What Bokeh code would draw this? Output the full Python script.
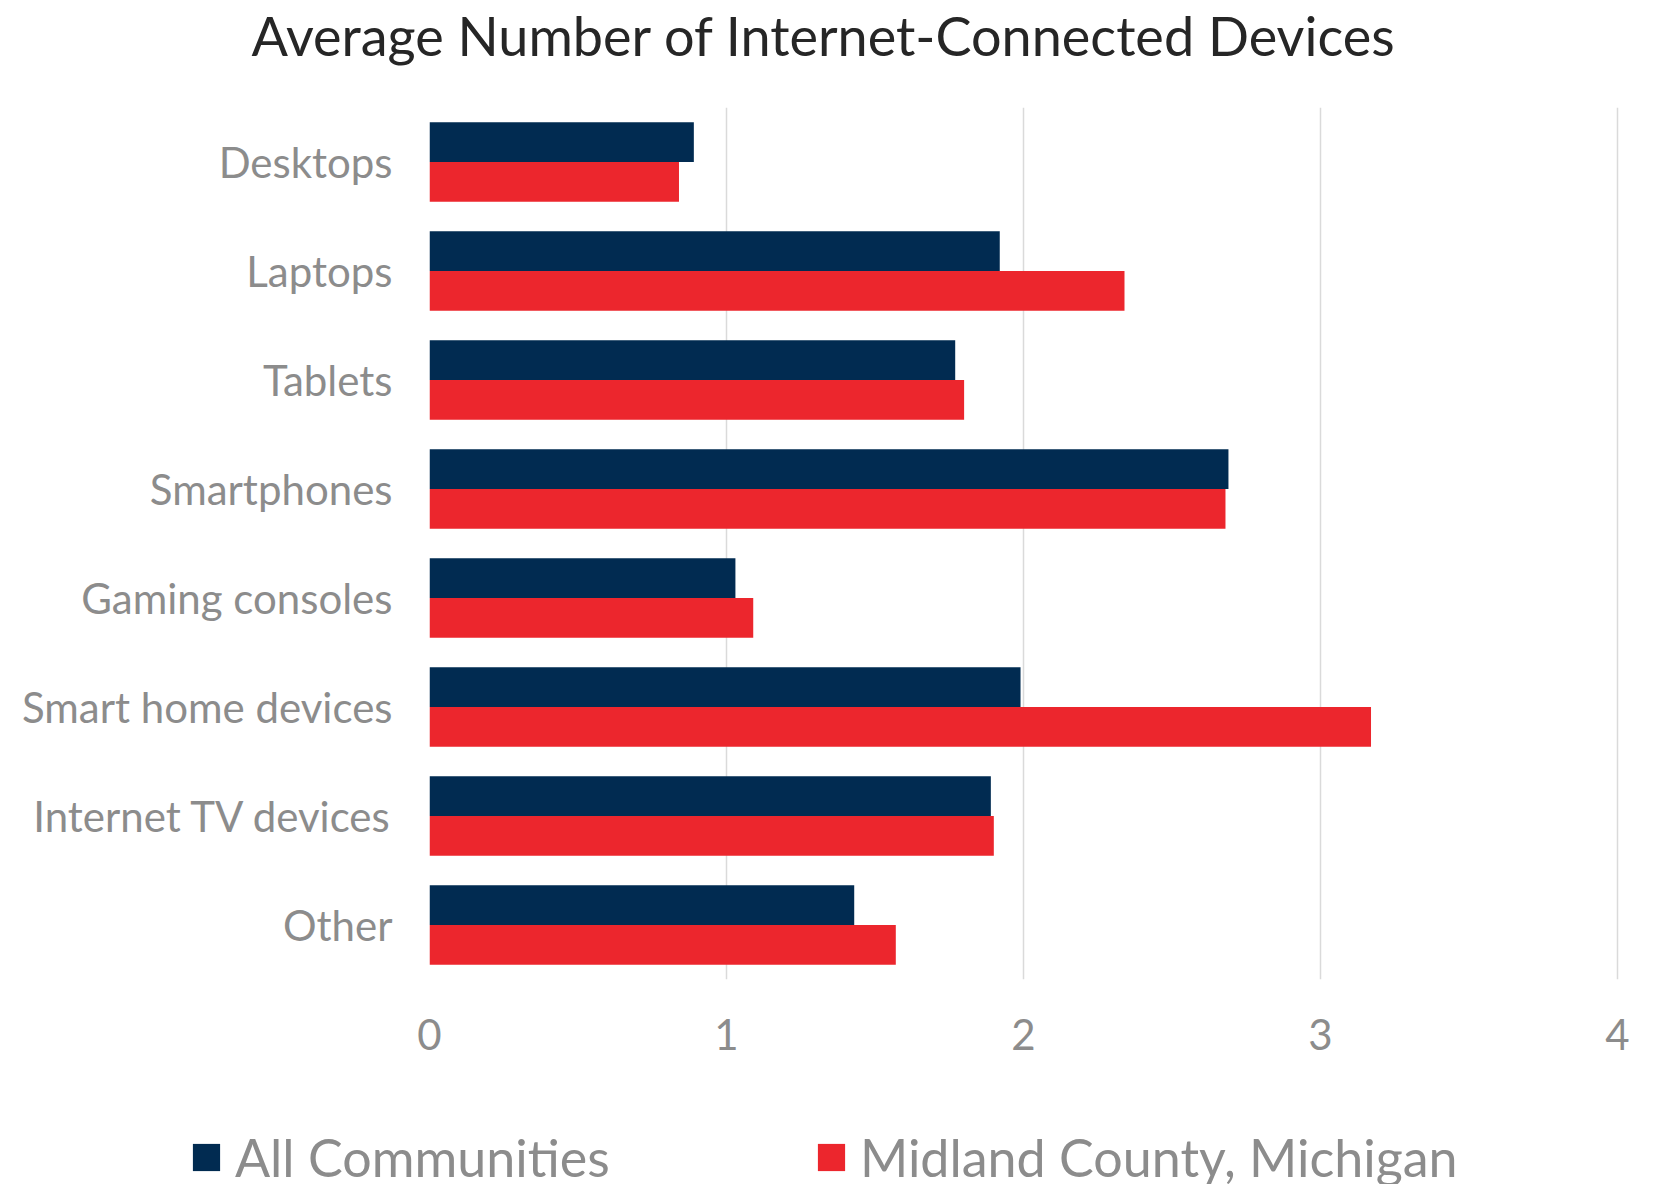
from bokeh.plotting import figure
from bokeh.models import FactorRange, Range1d, Legend, LegendItem, Label, ColumnDataSource, FixedTicker
from bokeh.transform import dodge
from bokeh.embed import file_html
from bokeh.resources import INLINE

categories = ["Desktops", "Laptops", "Tablets", "Smartphones", "Gaming consoles",
              "Smart home devices", "Internet TV devices", "Other"]
all_communities = [0.89, 1.92, 1.77, 2.69, 1.03, 1.99, 1.89, 1.43]
midland_county = [0.84, 2.34, 1.80, 2.68, 1.09, 3.17, 1.90, 1.57]
series_names = ["All Communities", "Midland County, Michigan"]
x_ticks = [0, 1, 2, 3, 4]
title_text = "Average Number of Internet-Connected Devices"

NAVY = "#012b51"
RED = "#ec262d"
GRAY = "#8c8c8c"
FONT = "Lato"
W = 1660

source = ColumnDataSource(dict(cat=categories, a=all_communities, m=midland_county))

# ---- title strip ----
head = figure(width=W, height=107, x_range=Range1d(0, W), y_range=Range1d(0, 107),
              output_backend="svg", toolbar_location=None,
              x_axis_type=None, y_axis_type=None,
              min_border_left=0, min_border_right=0, min_border_top=0, min_border_bottom=0)
head.outline_line_color = None
head.grid.grid_line_color = None
head.add_layout(Label(x=251, y=72, text=title_text, text_font=FONT, text_font_size="54px",
                      text_color="#262626", text_align="left", text_baseline="alphabetic"))

# ---- main chart ----
p = figure(
    width=W, height=997,
    y_range=FactorRange(factors=list(reversed(categories)), range_padding=0),
    x_range=Range1d(0, 4.01),
    output_backend="svg", toolbar_location=None,
    min_border_left=429, min_border_right=40, min_border_top=0, min_border_bottom=125,
)

bar_h = 0.364
r1 = p.hbar(y=dodge("cat", bar_h / 2, range=p.y_range), right="a", left=0, height=bar_h,
            source=source, color=NAVY, line_color=None)
r2 = p.hbar(y=dodge("cat", -bar_h / 2, range=p.y_range), right="m", left=0, height=bar_h,
            source=source, color=RED, line_color=None)

p.outline_line_color = None
p.ygrid.grid_line_color = None
p.xgrid.ticker = FixedTicker(ticks=x_ticks)
p.xgrid.grid_line_color = "#dadada"
p.xgrid.grid_line_width = 1.5

p.xaxis.ticker = FixedTicker(ticks=x_ticks)
for ax in (p.xaxis, p.yaxis):
    ax.axis_line_color = None
    ax.major_tick_line_color = None
    ax.minor_tick_line_color = None
    ax.major_label_text_color = GRAY
    ax.major_label_text_font = FONT
    ax.major_label_text_font_size = "42px"
p.xaxis.major_label_standoff = 33
p.yaxis.major_label_standoff = 31

# ---- legend strip ----
lf = figure(width=W, height=80, x_range=Range1d(-2, -1),
            y_range=FactorRange(factors=categories),
            output_backend="svg", toolbar_location=None,
            x_axis_type=None, y_axis_type=None,
            min_border_left=0, min_border_right=0, min_border_top=0, min_border_bottom=0)
lf.outline_line_color = None
lf.grid.grid_line_color = None
# same series drawn outside the visible range: only their legend swatches show
d1 = lf.hbar(y="cat", right="a", height=0.5, source=source, fill_color=NAVY, line_color=None)
d2 = lf.hbar(y="cat", right="m", height=0.5, source=source, fill_color=RED, line_color=None)


def add_legend(label, renderer, x):
    lg = Legend(items=[LegendItem(label=label, renderers=[renderer])], location=(x, -4),
                orientation="horizontal", glyph_width=34, glyph_height=34, label_standoff=12,
                padding=0, margin=0, spacing=0, border_line_color=None,
                background_fill_alpha=0, label_text_font_size="52px",
                label_text_color=GRAY, label_text_font=FONT)
    lf.add_layout(lg, "center")


add_legend(series_names[0], d1, 189)
add_legend(series_names[1], d2, 814)

open("out.html", "w").write(file_html([head, p, lf], INLINE))
